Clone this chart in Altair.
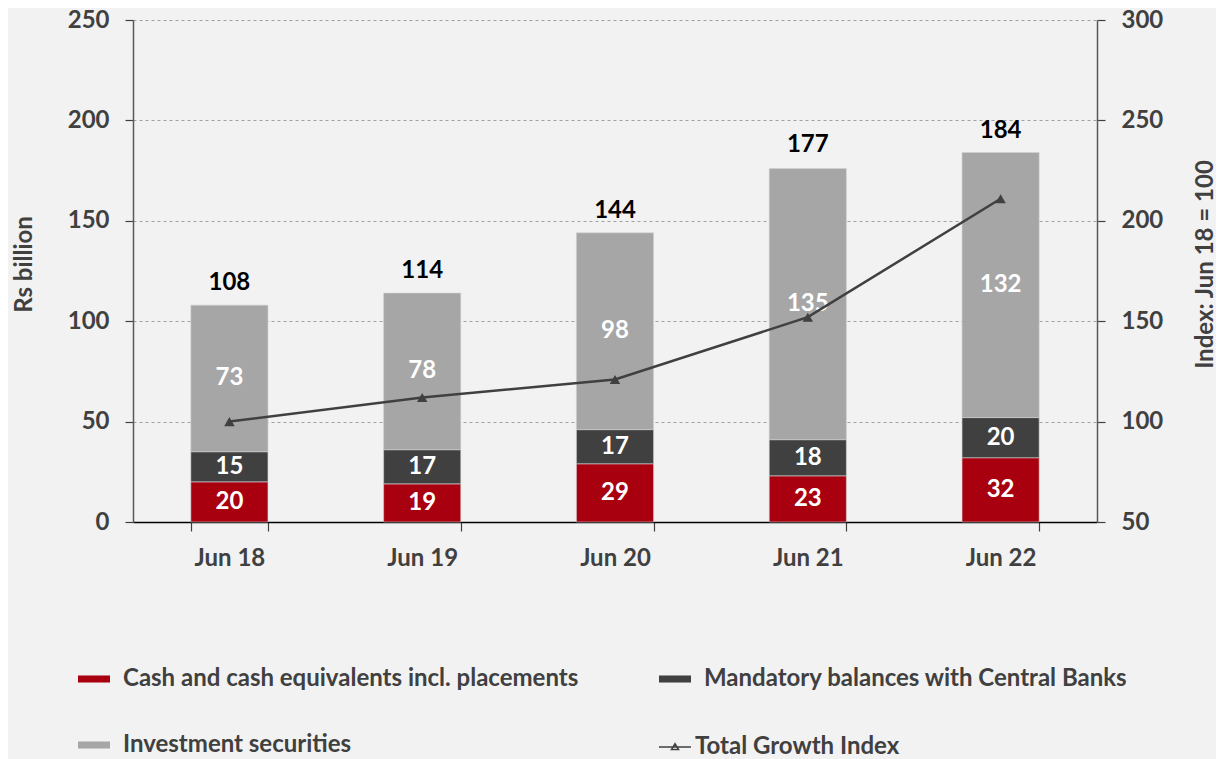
import altair as alt
import pandas as pd

periods = ["Jun 18", "Jun 19", "Jun 20", "Jun 21", "Jun 22"]
cash = [20, 19, 29, 23, 32]
mandatory = [15, 17, 17, 18, 20]
investment = [73, 78, 98, 135, 132]
totals = [108, 114, 144, 177, 184]
growth_index = [100, 112, 121, 152, 211]

series_names = [
    "Cash and cash equivalents incl. placements",
    "Mandatory balances with Central Banks",
    "Investment securities",
]
series_colors = ["#A8000F", "#404040", "#A6A6A6"]
line_name = "Total Growth Index"

FONT = "Lato"
TXT = "#404040"
FS = 24

rows = []
for i, p in enumerate(periods):
    base = 0
    for k, (name, vals) in enumerate(zip(series_names, [cash, mandatory, investment])):
        v = vals[i]
        rows.append(dict(period=p, series=name, order=k, value=v, mid=base + v / 2))
        base += v
seg = pd.DataFrame(rows)
tot = pd.DataFrame(dict(period=periods, total=totals))
idx = pd.DataFrame(dict(period=periods, index=growth_index, name=[line_name] * len(periods)))

xscale = alt.Scale(domain=periods, paddingInner=0.6, paddingOuter=0.3)
xaxis = alt.Axis(
    title=None, labelAngle=0, tickBand="extent", domainColor="#000000", domainWidth=1.5,
    tickColor=TXT, tickSize=9, tickWidth=1.2, labelPadding=15, labelFont=FONT,
    labelFontSize=FS, labelFontWeight="bold", labelColor=TXT, grid=False,
)
X = alt.X("period:N", scale=xscale, axis=xaxis, sort=periods)

lscale = alt.Scale(domain=[0, 250], nice=False, zero=True)
laxis = alt.Axis(
    title="Rs billion", values=[0, 50, 100, 150, 200, 250], grid=True, gridDash=[3, 3],
    gridColor="#A0A0A0", gridWidth=1, domainColor="#595959", domainWidth=1.5,
    tickColor=TXT, tickSize=8, tickWidth=1.2, labelPadding=16, labelFont=FONT,
    labelFontSize=FS, labelFontWeight="bold", labelColor=TXT,
    titleFont=FONT, titleFontSize=FS, titleFontWeight="bold", titleColor=TXT,
    titleX=-109, titleY=244, titleAngle=270, titleAlign="center", titleBaseline="middle",
)
rscale = alt.Scale(domain=[50, 300], nice=False, zero=False)
raxis = alt.Axis(
    title="Index: Jun 18 = 100", orient="right", values=[50, 100, 150, 200, 250, 300],
    grid=False, domainColor="#595959", domainWidth=1.5,
    tickColor=TXT, tickSize=8, tickWidth=1.2, labelPadding=16, labelFont=FONT,
    labelFontSize=FS, labelFontWeight="bold", labelColor=TXT,
    titleFont=FONT, titleFontSize=FS, titleFontWeight="bold", titleColor=TXT,
    titleX=108, titleY=244, titleAngle=270, titleAlign="center", titleBaseline="middle",
)

bars = alt.Chart(seg).mark_bar(stroke="#D0D0D0", strokeWidth=0.6).encode(
    x=X,
    y=alt.Y("value:Q", stack="zero", scale=lscale, axis=laxis),
    fill=alt.Fill(
        "series:N",
        scale=alt.Scale(domain=series_names, range=series_colors),
        legend=alt.Legend(
            title=None, orient="none", legendX=-55, legendY=643, columns=2,
            direction="horizontal", columnPadding=80, rowPadding=38, padding=0,
            symbolType="M-1,-0.22L1,-0.22L1,0.22L-1,0.22Z", symbolSize=1024,
            symbolStrokeWidth=0, labelFont=FONT, labelFontSize=FS,
            labelFontWeight="bold", labelColor=TXT, labelOffset=13, labelLimit=0,
        ),
    ),
    order=alt.Order("order:Q"),
)
seg_text = alt.Chart(seg).mark_text(
    font=FONT, fontSize=FS, fontWeight="bold", color="white", baseline="middle"
).encode(
    x=X,
    y=alt.Y("mid:Q", scale=lscale, axis=laxis),
    text=alt.Text("value:Q"),
)
tot_text = alt.Chart(tot).mark_text(
    font=FONT, fontSize=FS, fontWeight="bold", color="black", baseline="middle", dy=-22
).encode(
    x=X,
    y=alt.Y("total:Q", scale=lscale, axis=laxis),
    text=alt.Text("total:Q"),
)
left = alt.layer(bars, seg_text, tot_text)

line = alt.Chart(idx).mark_line(strokeWidth=2.5).encode(
    x=X,
    y=alt.Y("index:Q", scale=rscale, axis=raxis),
    stroke=alt.Stroke(
        "name:N",
        scale=alt.Scale(domain=[line_name], range=["#404040"]),
        legend=alt.Legend(
            title=None, orient="none", legendX=525, legendY=710, padding=0,
            symbolType="M-1,0L1,0M-0.22,0.16L0,-0.2L0.22,0.16Z", symbolSize=1024,
            symbolStrokeWidth=1.5, symbolFillColor="#FFFFFF",
            labelFont=FONT, labelFontSize=FS, labelFontWeight="bold",
            labelColor=TXT, labelOffset=3, labelLimit=0,
        ),
    ),
)
pts = alt.Chart(idx).mark_point(shape="triangle-up", filled=True, size=110, color="#404040", opacity=1).encode(
    x=X,
    y=alt.Y("index:Q", scale=rscale, axis=raxis),
)
right = alt.layer(line, pts)

chart = alt.layer(left, right).resolve_scale(y="independent").properties(
    width=964, height=502,
    autosize=alt.AutoSizeParams(type="none"),
    padding={"left": 125, "top": 12, "right": 119, "bottom": 237},
    background="#F2F2F2",
).configure_view(stroke=None)

chart.save("out.html", embed_options={"renderer": "svg", "actions": False})
